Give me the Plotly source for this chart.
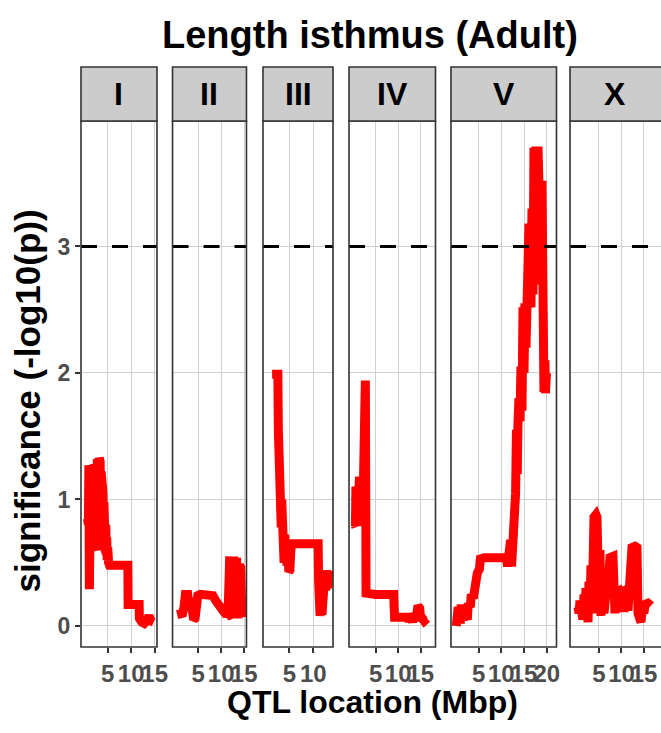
import plotly.graph_objects as go

# ---------------- data ----------------
chromosomes = ["I", "II", "III", "IV", "V", "X"]

chrI_x = [0.7, 0.8, 0.9, 1.0, 1.1, 1.2, 1.3, 1.4, 1.5, 1.6, 1.7, 1.8, 1.9, 2.0, 2.1, 2.2, 2.3, 2.4, 2.5, 2.6,
          2.7, 2.8, 2.9, 3.0, 3.1, 3.2, 3.3, 3.4, 3.5, 3.6, 3.7, 3.8, 3.9, 4.0, 4.1, 4.2, 4.3, 4.4, 4.5, 4.6,
          4.7, 4.8, 4.9, 5.0, 5.2, 5.4, 9.3, 9.35, 11.7, 11.75, 12.3, 12.8, 13.3, 13.8, 14.2, 14.8]
chrI_y = [0.85, 1.27, 0.80, 1.27, 0.29, 1.20, 0.29, 1.27, 0.30, 1.25, 0.60, 1.22, 0.62, 1.25, 0.60, 1.28, 0.62, 1.27, 0.60, 1.30,
          0.62, 1.32, 0.62, 1.33, 0.65, 1.33, 0.62, 1.30, 0.62, 1.22, 0.62, 1.15, 0.62, 1.05, 0.60, 0.98, 0.60, 0.88, 0.58, 0.80,
          0.56, 0.70, 0.52, 0.62, 0.50, 0.48, 0.48, 0.17, 0.17, 0.06, 0.03, 0.02, 0.04, 0.08, 0.04, 0.03]

chrII_x = [0.4, 1.0, 1.6, 1.9, 2.2, 2.7, 3.0, 3.3, 3.6, 4.0, 4.3, 4.6, 4.9, 5.5, 6.5, 7.5, 8.2, 8.8, 9.4, 10.0,
           10.6, 10.9, 11.2, 11.5, 11.7, 11.85, 12.0, 12.15, 12.3, 12.45, 12.6, 12.75, 12.9, 13.05, 13.2, 13.35, 13.5,
           13.65, 13.8, 13.95, 14.1, 14.25, 14.5]
chrII_y = [0.09, 0.09, 0.10, 0.15, 0.25, 0.25, 0.15, 0.22, 0.08, 0.05, 0.06, 0.15, 0.24, 0.25, 0.25, 0.25, 0.24, 0.20, 0.16, 0.13,
           0.11, 0.10, 0.08, 0.10, 0.40, 0.55, 0.08, 0.55, 0.07, 0.55, 0.08, 0.55, 0.07, 0.54, 0.08, 0.54, 0.07,
           0.48, 0.06, 0.48, 0.06, 0.46, 0.07]

chrIII_x = [1.4, 2.0, 2.6, 2.7, 2.8, 2.9, 3.0, 3.1, 3.2, 3.3, 3.4, 3.5, 3.6, 3.7, 3.8, 3.9, 4.0, 4.1, 4.2, 4.3,
            4.4, 4.5, 4.6, 4.7, 4.8, 4.9, 5.0, 5.1, 5.3, 5.5, 8.0, 11.0, 11.1, 11.2, 11.4, 11.6, 11.8, 12.0, 12.2, 12.4,
            12.6, 12.8, 13.0, 13.3, 13.6]
chrIII_y = [1.99, 1.99, 1.99, 1.55, 1.22, 0.95, 1.20, 0.80, 1.05, 0.78, 1.00, 0.55, 0.80, 0.52, 0.75, 0.50, 0.72, 0.52, 0.70, 0.50,
            0.65, 0.48, 0.62, 0.45, 0.60, 0.43, 0.55, 0.44, 0.60, 0.65, 0.65, 0.65, 0.35, 0.10, 0.08, 0.15, 0.09, 0.40, 0.20, 0.42,
            0.28, 0.44, 0.30, 0.42, 0.40]

chrIV_x = [0.3, 0.4, 0.5, 0.6, 0.7, 0.8, 0.9, 1.0, 1.1, 1.2, 1.3, 1.4, 1.5, 1.6, 1.7, 1.8, 1.9, 2.0, 2.1, 2.2,
           2.3, 2.4, 2.6, 2.7, 2.8, 2.85, 5.0, 9.0, 9.1, 9.2, 12.0, 12.4, 12.8, 13.2, 13.6, 14.0, 14.4, 14.8, 15.0, 15.4,
           15.8, 16.4]
chrIV_y = [0.80, 1.05, 0.79, 1.10, 0.80, 1.08, 0.79, 1.18, 0.80, 1.18, 0.79, 1.18, 0.80, 1.15, 0.79, 1.12, 0.80, 1.05, 0.79, 0.95,
           0.80, 1.00, 1.94, 1.94, 1.00, 0.26, 0.25, 0.25, 0.15, 0.07, 0.07, 0.04, 0.08, 0.03, 0.10, 0.06, 0.16, 0.14, 0.04, 0.06,
           0.04, 0.06]

chrV_x = [0.06, 0.50, 0.94, 1.16, 1.60, 2.05, 2.49, 2.71, 3.16, 3.38, 3.82, 4.04, 4.49, 4.71, 5.16, 5.38, 6.26, 9.59, 11.14, 11.36,
          11.59, 11.81, 12.03, 12.25, 12.47, 12.69, 12.92, 13.14, 13.33, 13.5, 13.66, 13.88, 14.1, 14.32, 14.55, 14.77, 14.99,
          15.2, 15.43, 15.65, 15.87, 16.09, 16.31, 16.53, 16.75, 16.97, 17.19, 17.41, 17.63, 17.85, 18.07, 18.29, 18.51,
          18.73, 18.95, 19.06, 19.17, 19.28, 19.39, 19.6, 19.72, 19.94]
chrV_y = [0.00, 0.15, 0.02, 0.17, 0.05, 0.10, 0.05, 0.18, 0.15, 0.25, 0.22, 0.33, 0.32, 0.42, 0.45, 0.53, 0.54, 0.54, 0.54, 0.47,
          0.65, 0.48, 0.68, 0.47, 0.60, 0.68, 0.90, 1.05, 1.55, 1.20, 1.60, 1.80, 1.62, 2.05, 1.70, 2.52, 2.00,
          2.55, 2.20, 3.15, 2.40, 3.18, 2.55, 2.52, 3.30, 2.62, 3.78, 2.70, 3.79, 2.90, 3.79, 3.10, 3.77,
          2.90, 3.52, 2.60, 3.00, 2.20, 1.85, 2.10, 1.84, 2.00]

chrX_x = [0.33, 0.56, 0.78, 1.00, 1.22, 1.44, 1.67, 1.89, 2.11, 2.33, 2.56, 2.78, 3.00, 3.22, 3.44, 3.67, 3.89, 4.33, 4.56, 4.78,
          5.00, 5.22, 5.44, 5.67, 6.11, 6.33, 6.78, 7.00, 7.22, 7.44, 8.11, 8.33, 8.56, 8.78, 9.22, 9.67, 9.89, 10.33, 10.56, 10.78,
          11.22, 11.44, 11.89, 12.33, 13.00, 13.44, 13.67, 13.89, 14.33, 14.56, 15.00, 15.22, 15.89, 16.56]
chrX_y = [0.15, 0.10, 0.20, 0.08, 0.18, 0.05, 0.25, 0.08, 0.30, 0.04, 0.03, 0.35, 0.10, 0.48, 0.15, 0.45, 0.86, 0.88, 0.86, 0.55,
          0.10, 0.60, 0.08, 0.35, 0.10, 0.25, 0.35, 0.30, 0.40, 0.54, 0.55, 0.30, 0.10, 0.26, 0.27, 0.12, 0.26, 0.27, 0.11, 0.26,
          0.25, 0.12, 0.40, 0.62, 0.63, 0.62, 0.10, 0.05, 0.03, 0.12, 0.10, 0.17, 0.18, 0.16]

series_x = [chrI_x, chrII_x, chrIII_x, chrIV_x, chrV_x, chrX_x]
series_y = [chrI_y, chrII_y, chrIII_y, chrIV_y, chrV_y, chrX_y]

x_ticks = [[5, 10, 15], [5, 10, 15], [5, 10], [5, 10, 15], [5, 10, 15, 20], [5, 10, 15]]
y_ticks = [0, 1, 2, 3]
threshold = 3

title_text = "Length isthmus (Adult)"
x_title = "QTL location (Mbp)"
y_title = "significance (-log10(p))"

# ---------------- layout ----------------
x_ranges = [[-0.68, 15.5], [-0.6, 15.5], [-0.5, 14.1], [-0.93, 18.3], [-1.1, 22.15], [-1.44, 18.78]]
y_range = [-0.166, 3.992]
x_domains = [[0.0, 0.1310], [0.1578, 0.2853], [0.3138, 0.4345], [0.4621, 0.6112], [0.6379, 0.8198], [0.8431, 1.0]]
y_top = 0.9069

FONT = "Liberation Sans, Arial, sans-serif"
GRID = "#D0D0D0"
BORDER = "#333333"

fig = go.Figure()
for i in range(6):
    sfx = "" if i == 0 else str(i + 1)
    fig.add_trace(go.Scatter(x=series_x[i], y=series_y[i], mode="lines",
                             line=dict(color="#FF0000", width=9),
                             xaxis="x" + sfx, yaxis="y" + sfx, hoverinfo="skip",
                             showlegend=False))
    fig.layout["xaxis" + sfx] = dict(
        domain=x_domains[i], range=x_ranges[i], anchor="y" + sfx, automargin=False,
        tickmode="array", tickvals=x_ticks[i], ticktext=[str(t) for t in x_ticks[i]],
        ticks="outside", ticklen=5, tickwidth=1.5, tickcolor=BORDER, tickangle=0,
        showgrid=True, gridcolor=GRID, gridwidth=1.3, zeroline=False, showline=False,
        tickfont=dict(family=FONT, size=24, color="#4D4D4D", weight="bold"),
        fixedrange=True)
    fig.layout["yaxis" + sfx] = dict(
        domain=[0, y_top], range=y_range, anchor="x" + sfx, automargin=False,
        tickmode="array", tickvals=y_ticks, ticktext=[str(t) for t in y_ticks],
        showticklabels=(i == 0), ticks="outside" if i == 0 else "", ticklen=5, tickwidth=1.5,
        tickcolor=BORDER, showgrid=True, gridcolor=GRID, gridwidth=1.3, zeroline=False,
        showline=False, tickfont=dict(family=FONT, size=23, color="#4D4D4D", weight="bold"),
        fixedrange=True)

shapes = []
annotations = []
for i, name in enumerate(chromosomes):
    sfx = "" if i == 0 else str(i + 1)
    x0, x1 = x_domains[i]
    if i == 5:
        x1 = 1.05
    shapes.append(dict(type="line", xref="x" + sfx + " domain", x0=0, x1=1,
                       yref="y" + sfx, y0=threshold, y1=threshold,
                       line=dict(color="black", width=3, dash="16px,15px"), layer="above"))
    shapes.append(dict(type="rect", xref="paper", yref="paper", x0=x0, x1=x1, y0=0, y1=y_top,
                       line=dict(color=BORDER, width=1.6), fillcolor="rgba(0,0,0,0)", layer="above"))
    shapes.append(dict(type="rect", xref="paper", yref="paper", x0=x0, x1=x1, y0=y_top, y1=1.0,
                       line=dict(color=BORDER, width=1.6), fillcolor="#CCCCCC", layer="above"))
    annotations.append(dict(text=name, xref="paper", yref="paper",
                            x=(x_domains[i][0] + x_domains[i][1]) / 2, y=(y_top + 1) / 2,
                            showarrow=False, xanchor="center", yanchor="middle",
                            font=dict(family=FONT, size=32, color="black", weight="bold")))

annotations.append(dict(text=title_text, xref="paper", yref="paper", x=0.498, y=1.055,
                        showarrow=False, xanchor="center", yanchor="middle",
                        font=dict(family=FONT, size=38, color="black", weight="bold")))
annotations.append(dict(text=x_title, xref="paper", yref="paper", x=0.502, y=-0.095,
                        showarrow=False, xanchor="center", yanchor="middle",
                        font=dict(family=FONT, size=32, color="black", weight="bold")))
annotations.append(dict(text=y_title, xref="paper", yref="paper", x=-0.0914, y=0.425,
                        showarrow=False, xanchor="center", yanchor="middle", textangle=-90,
                        font=dict(family=FONT, size=35, color="black", weight="bold")))

fig.update_layout(width=661, height=733, autosize=False,
                  margin=dict(l=81, r=0, t=67, b=86, autoexpand=False),
                  plot_bgcolor="white", paper_bgcolor="white", showlegend=False,
                  shapes=shapes, annotations=annotations)

fig.write_html("out.html")
